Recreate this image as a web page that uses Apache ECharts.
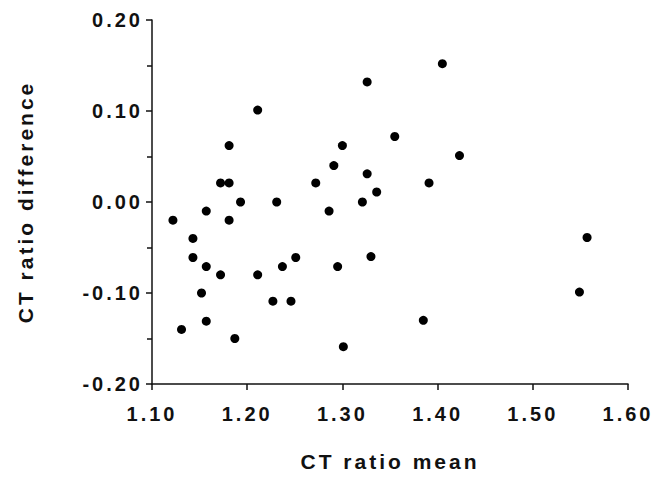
<!DOCTYPE html>
<html>
<head>
<meta charset="utf-8">
<script src="https://cdn.jsdelivr.net/npm/echarts@6/dist/echarts.min.js"></script>
<style>
html,body{margin:0;padding:0;background:#fff}
#c{width:667px;height:477px}
#c svg text{letter-spacing:3px}
</style>
</head>
<body>
<div id="c"></div>
<script>
// CT ratio mean (x) and CT ratio difference (y)
const ctMean = [1.122, 1.131, 1.143, 1.143, 1.152, 1.157, 1.157, 1.157, 1.172, 1.172,
                1.181, 1.181, 1.181, 1.187, 1.193, 1.211, 1.211, 1.227, 1.231, 1.237,
                1.246, 1.251, 1.272, 1.286, 1.291, 1.295, 1.300, 1.301, 1.321, 1.326,
                1.326, 1.330, 1.336, 1.355, 1.385, 1.391, 1.405, 1.423, 1.549, 1.557];
const ctDiff = [-0.020, -0.140, -0.040, -0.061, -0.100, -0.010, -0.071, -0.131, -0.080, 0.021,
                0.021, 0.062, -0.020, -0.150, 0.000, 0.101, -0.080, -0.109, 0.000, -0.071,
                -0.109, -0.061, 0.021, -0.010, 0.040, -0.071, 0.062, -0.159, 0.000, 0.031,
                0.132, -0.060, 0.011, 0.072, -0.130, 0.021, 0.152, 0.051, -0.099, -0.039];
const xTicks = [1.10, 1.20, 1.30, 1.40, 1.50, 1.60];
const yTicks = [-0.20, -0.10, 0.00, 0.10, 0.20];
const xTitle = 'CT ratio mean';
const yTitle = 'CT ratio difference';

const points = ctMean.map((x, i) => [x, ctDiff[i]]);
const font = 'Liberation Sans, Arial, Helvetica, sans-serif';
const ink = '#111';
const chart = echarts.init(document.getElementById('c'), null, {renderer: 'svg'});
chart.setOption({
  animation: false,
  backgroundColor: '#fff',
  grid: {left: 152, right: 39, top: 20, bottom: 90, containLabel: false},
  xAxis: {
    type: 'value', min: xTicks[0], max: xTicks[xTicks.length - 1], interval: 0.1,
    name: xTitle, nameLocation: 'middle', nameGap: 67,
    nameTextStyle: {fontFamily: font, fontWeight: 'bold', fontSize: 21, color: ink},
    axisLine: {show: true, onZero: false, lineStyle: {color: ink, width: 1.5}},
    axisTick: {show: true, inside: false, length: 6, lineStyle: {color: ink, width: 1.5}},
    axisLabel: {margin: 20, fontFamily: font, fontWeight: 'bold', fontSize: 20, color: ink,
                formatter: v => v.toFixed(2)},
    splitLine: {show: false}
  },
  yAxis: {
    type: 'value', min: yTicks[0], max: yTicks[yTicks.length - 1], interval: 0.1,
    name: yTitle, nameLocation: 'middle', nameGap: 116, nameRotate: 90,
    nameTextStyle: {fontFamily: font, fontWeight: 'bold', fontSize: 21, color: ink},
    axisLine: {show: true, onZero: false, lineStyle: {color: ink, width: 1.5}},
    axisTick: {show: true, inside: false, length: 6, lineStyle: {color: ink, width: 1.5}},
    minorTick: {show: true, splitNumber: 2, length: 5, lineStyle: {color: ink, width: 1.5}},
    axisLabel: {margin: 9, fontFamily: font, fontWeight: 'bold', fontSize: 20, color: ink,
                formatter: v => v.toFixed(2)},
    splitLine: {show: false}
  },
  series: [{
    type: 'scatter',
    data: points,
    symbol: 'circle',
    symbolSize: 9,
    itemStyle: {color: '#000', opacity: 1}
  }]
});
</script>
</body>
</html>
